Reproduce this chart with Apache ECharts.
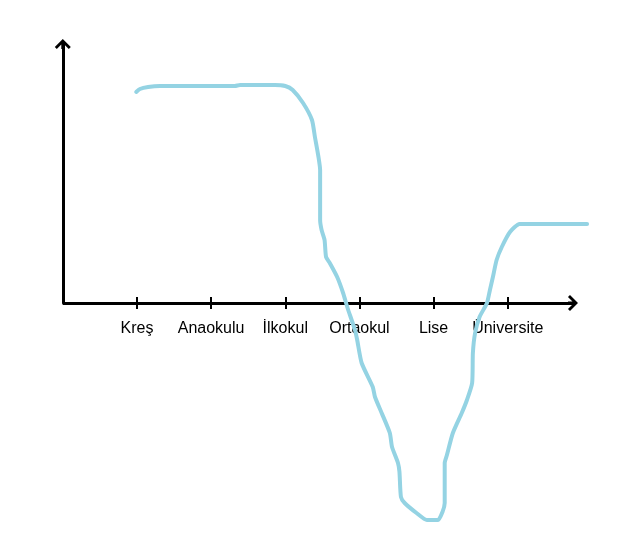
<!DOCTYPE html>
<html>
<head>
<meta charset="utf-8">
<script src="https://cdn.jsdelivr.net/npm/echarts@6/dist/echarts.min.js"></script>
<style>
  html, body { margin: 0; padding: 0; background: #fff; }
  #main { width: 635px; height: 560px; }
</style>
</head>
<body>
<div id="main"></div>
<script>
const chart = echarts.init(document.getElementById('main'))

// education stages on the x axis (1..6)
var categories = ['Kreş', 'Anaokulu', 'İlkokul', 'Ortaokul', 'Lise', 'Üniversite']
var tickValues = [1, 2, 3, 4, 5, 6]
var xAxisEnd = 6.88

// hand drawn curve
var curveX = [0.99, 1.04, 1.15, 1.31, 2.32, 2.39, 2.86, 3.00, 3.10, 3.24, 3.36, 3.40, 3.45, 3.47,
    3.47, 3.49, 3.53, 3.55, 3.60, 3.70, 3.78, 3.84, 3.94, 3.97, 4.03, 4.18, 4.21, 4.30,
    4.41, 4.44, 4.52, 4.54, 4.56, 4.61, 4.77, 4.91, 5.06, 5.12, 5.15, 5.15, 5.18, 5.26,
    5.38, 5.45, 5.52, 5.53, 5.56, 5.62, 5.72, 5.76, 5.80, 5.85, 5.92, 6.03, 6.16, 7.07]
var curveY = [211, 214, 216, 217, 217, 218, 218, 217, 213, 200, 183, 166, 145, 133,
    83, 73, 63, 46, 40, 26, 10, -5, -27, -37, -60, -84, -94, -110,
    -130, -144, -160, -169, -194, -200, -210, -217, -217, -209, -200, -160, -152, -130,
    -110, -97, -80, -50, -30, -14, 0, 13, 26, 43, 56, 71, 79, 79]

var curve = curveX.map(function (x, i) { return [x, curveY[i]] })

// open arrow head with a short stem, pointing up
var arrowPath = 'path://M8,0 L16,8 L14,10 L9.5,5.5 L9.5,10 L6.5,10 L6.5,5.5 L2,10 L0,8 Z'

var axisColor = '#000'

chart.setOption({
    animation: false,
    // grid covers only the upper half, the curve runs below it unclipped
    grid: { left: 62.8, right: 45.7, top: 44, bottom: 257 },
    xAxis: [
        {
            type: 'value',
            position: 'bottom',
            min: 0,
            max: 7.1,
            interval: 1,
            splitLine: { show: false },
            axisLine: { show: false, onZero: false },
            axisTick: {
                customValues: tickValues,
                length: 6,
                lineStyle: { color: axisColor, width: 2 }
            },
            axisLabel: {
                customValues: tickValues,
                margin: 18,
                color: '#000',
                fontSize: 16,
                fontFamily: 'Liberation Sans, Arial, sans-serif',
                formatter: function (v) { return categories[Math.round(v) - 1] || '' }
            }
        },
        {
            // second axis only for the upper half of the tick marks
            type: 'value',
            position: 'bottom',
            offset: 0,
            min: 0,
            max: 7.1,
            interval: 1,
            splitLine: { show: false },
            axisLine: { show: false, onZero: false },
            axisTick: {
                customValues: tickValues,
                inside: true,
                length: 6,
                lineStyle: { color: axisColor, width: 2 }
            },
            axisLabel: { show: false }
        }
    ],
    yAxis: {
        type: 'value',
        min: 0,
        max: 259,
        splitLine: { show: false },
        axisTick: { show: false },
        axisLabel: { show: false },
        axisLine: {
            show: true,
            onZero: false,
            symbol: ['none', arrowPath],
            symbolSize: [16, 10],
            lineStyle: { color: axisColor, width: 3 }
        }
    },
    series: [
        {
            type: 'line',
            data: curve,
            showSymbol: false,
            smooth: 0.2,
            clip: false,
            z: 3,
            lineStyle: { color: '#94d3e3', width: 4, cap: 'round', join: 'round' },
            markLine: {
                silent: true,
                z: 1,
                symbol: ['none', arrowPath],
                symbolSize: [16, 10],
                label: { show: false },
                lineStyle: { color: axisColor, width: 3, type: 'solid' },
                data: [[{ coord: [0, 0] }, { coord: [xAxisEnd, 0] }]]
            }
        }
    ]
})
</script>
</body>
</html>
